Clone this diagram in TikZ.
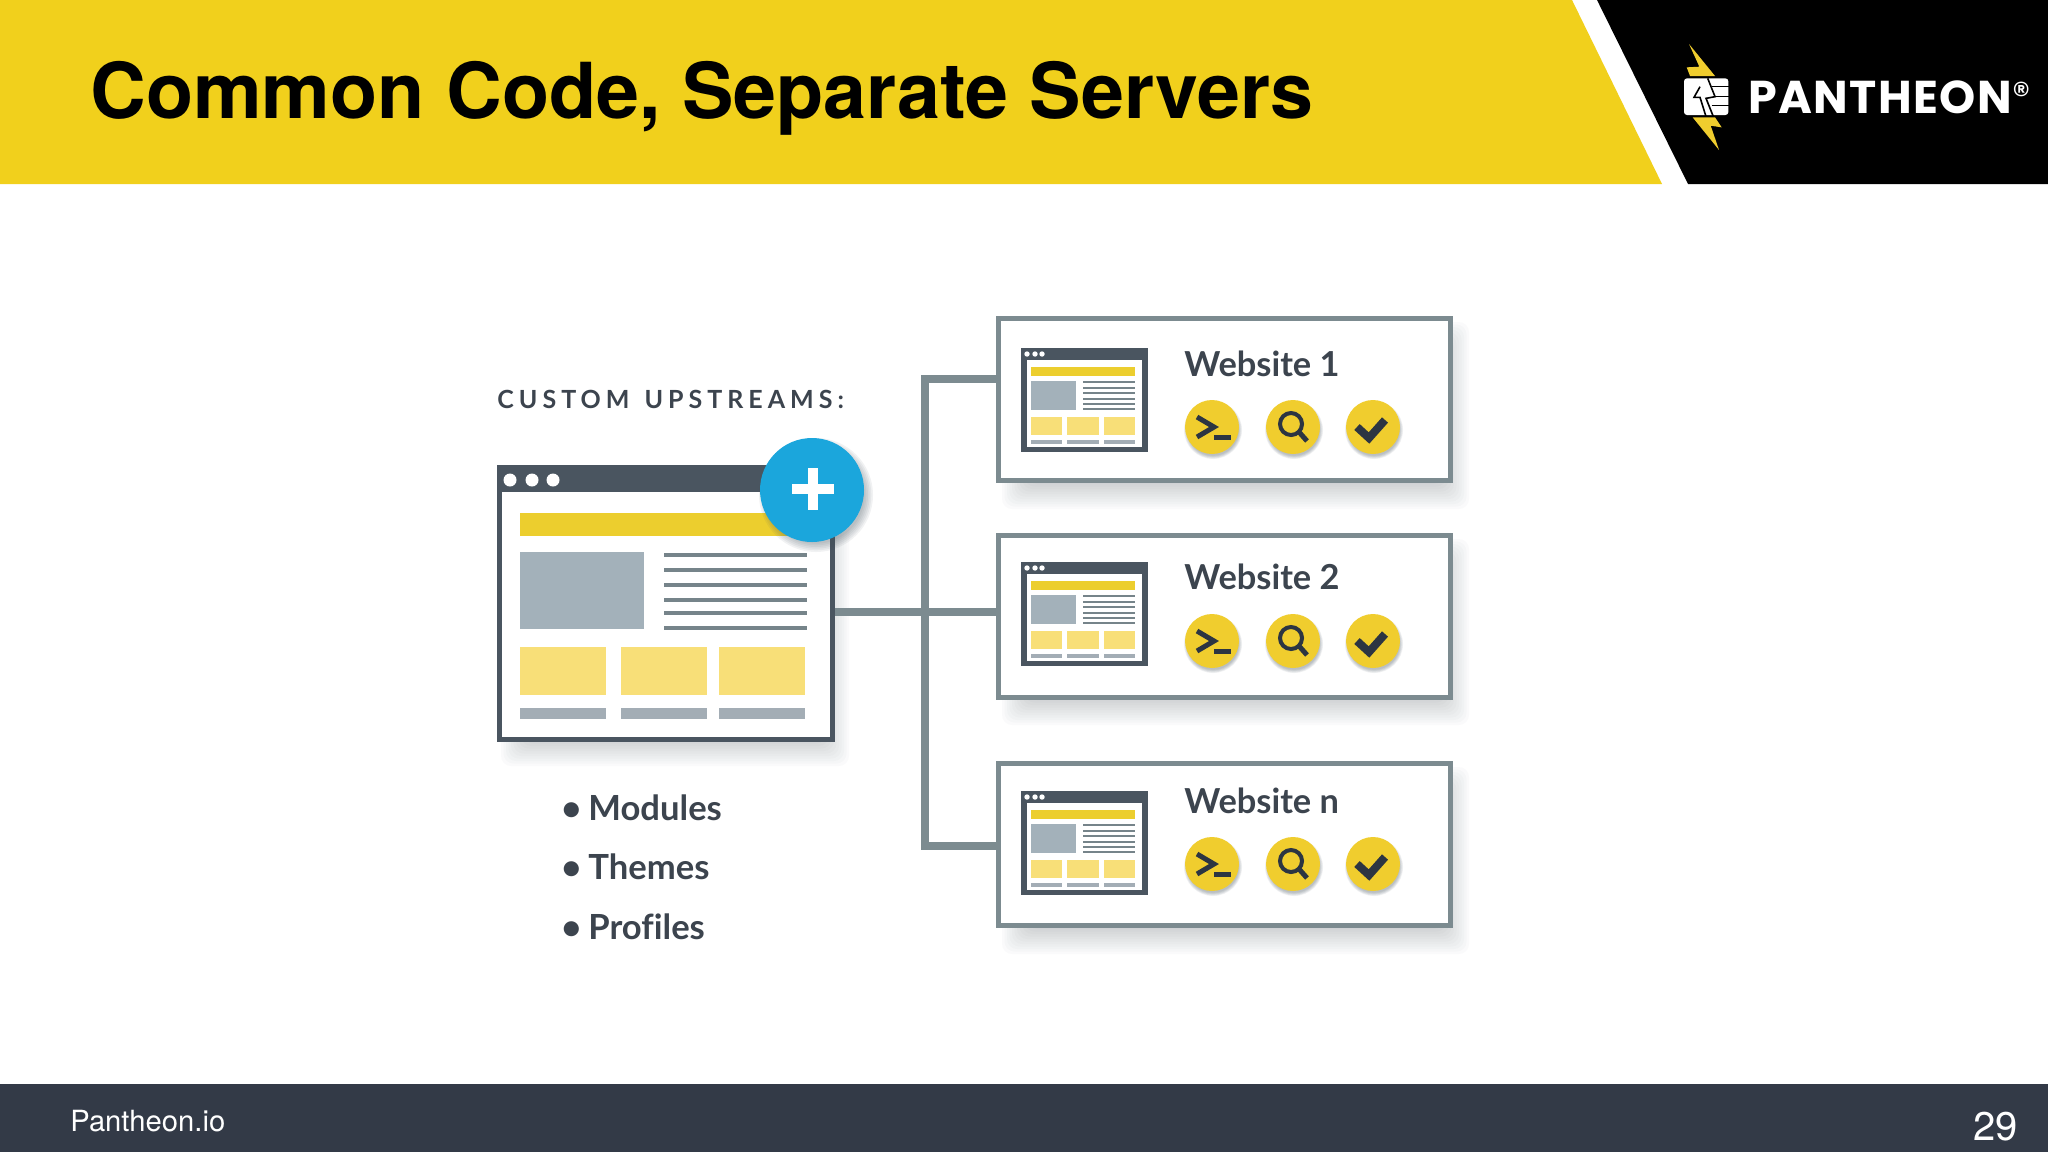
\documentclass[tikz,border=0pt]{standalone}
\usepackage{fontspec}
\setmainfont{Lato}[Ligatures=NoCommon]
\newfontfamily\helv{TeX Gyre Heros}
\newfontfamily\logofont{Poppins}
\definecolor{hdr}{HTML}{F1D01C}
\definecolor{slate}{HTML}{4A5560}
\definecolor{wire}{HTML}{7C8B90}
\definecolor{picgray}{HTML}{A3B1BA}
\definecolor{barline}{HTML}{76848A}
\definecolor{paleyel}{HTML}{F8DF78}
\definecolor{baryel}{HTML}{ECCE2E}
\definecolor{botbar}{HTML}{A3ADB5}
\definecolor{inktext}{HTML}{3C444E}
\definecolor{footbg}{HTML}{333A47}
\definecolor{plusblue}{HTML}{1BA6DC}
\definecolor{iconyel}{HTML}{F0CD2E}
\definecolor{iconink}{HTML}{2C3542}
\definecolor{shadowc}{HTML}{46525C}
\tikzset{
  x=0.5pt,y=-0.5pt,
  winbox/.style={draw=slate,fill=white,line width=2.5pt,inner sep=0pt,rectangle},
  sitebox/.style={draw=wire,fill=white,line width=2.5pt,inner sep=0pt,rectangle,minimum width=226pt,minimum height=81pt},
  conn/.style={draw=wire,line width=4pt,line join=miter},
  icondisc/.style={circle,fill=iconyel,draw=none,minimum size=27pt,inner sep=0pt},
  iconline/.style={draw=iconink,line width=2.5pt,line cap=butt,line join=miter},
  sitetitle/.style={anchor=base west,inner sep=0pt,font=\fontsize{17.2pt}{18pt}\selectfont\bfseries,text=inktext},
  listitem/.style={anchor=base west,inner sep=0pt,font=\fontsize{17.3pt}{18pt}\selectfont\bfseries,text=inktext},
}
% soft shadow: x0,y0,x1,y1
\newcommand{\softrect}[4]{%
  \foreach \k in {0,...,11}{%
    \fill[shadowc,fill opacity=0.022,rounded corners=5pt]
      ({#1-14+2.5*\k},{#2-14+2.5*\k}) rectangle ({#3+14-2.5*\k},{#4+14-2.5*\k});}}
\newcommand{\softdisc}[4]{% cx cy r spread
  \foreach \k in {0,...,5}{%
    \fill[shadowc,fill opacity=0.07] (#1,#2) circle ({#3+#4-\k*#4/3});}}
\tikzset{
  miniwin/.pic={
    \fill[slate] (0,0) rectangle (127,104);
    \fill[white] (6,12) rectangle (121,99);
    \foreach \d in {6,14,21}{\fill[white] (\d,6) circle (2.7);}
    \fill[baryel] (10,19) rectangle (114,28);
    \fill[picgray] (10,33) rectangle (55,62);
    \foreach \l in {34,40,45,51,56,61}{\fill[barline] (62,{\l-0.8}) rectangle (114,{\l+0.8});}
    \fill[paleyel] (10,69) rectangle (41,87);
    \fill[paleyel] (46,69) rectangle (78,87);
    \fill[paleyel] (83,69) rectangle (114,87);
    \fill[botbar] (10,92) rectangle (41,96);
    \fill[botbar] (46,92) rectangle (78,96);
    \fill[botbar] (83,92) rectangle (114,96);
  },
  toolrow/.pic={
    \foreach \c in {0,81,161}{\softdisc{\c+1}{3}{27}{2}}
    \node[icondisc] (-term) at (0,0) {};
    \node[icondisc] (-find) at (81,0) {};
    \node[icondisc] (-okay) at (161,0) {};
    \draw[iconline] (-15,-10) -- (2,0) -- (-15,10);
    \draw[iconline] (2,10) -- (19,10);
    \draw[iconline,line width=2pt] (79,-3) circle (11);
    \draw[iconline] (87,5) -- (95,14);
    \draw[iconline,line width=4pt] (145,0) -- (157,11) -- (173,-7);
  }
}
\begin{document}
\begin{tikzpicture}
\useasboundingbox (0,0) rectangle (2048,1152);
\fill[white] (0,0) rectangle (2048,1152);
% header
\fill[hdr] (0,0) -- (1572,0) -- (1662,184) -- (0,184) -- cycle;
\fill[black] (1597,0) -- (2048,0) -- (2048,184) -- (1688,184) -- cycle;
\node[anchor=base west,inner sep=0pt,font=\helv\bfseries\fontsize{38.6pt}{42pt}\selectfont,text=black] (title) at (90,118) {Common Code, Separate Servers};
% logo
\begin{scope}[shift={(1670,35)},x=0.1667pt,y=-0.1667pt]
  \fill[iconyel] (57,27) -- (135,123) -- (60,123) -- (50,97) -- (88,95) -- cycle;
  \fill[iconyel] (68,247) -- (135,247) -- (155,277) -- (122,272) -- (147,345) -- cycle;
  \fill[white,rounded corners=1.5pt] (42,130) rectangle (175,240);
  \draw[black,line width=0.8pt] (113,130) -- (135,185) -- (108,190) -- (130,245);
  \draw[black,line width=0.8pt] (90,155) -- (72,187) -- (90,187) -- (108,245);
  \draw[black,line width=0.8pt] (125,155) -- (178,155);
  \draw[black,line width=0.8pt] (135,185) -- (178,185);
  \draw[black,line width=0.8pt] (125,212) -- (178,212);
\end{scope}
\node[anchor=base west,inner sep=0pt,font=\logofont\bfseries\fontsize{23pt}{25pt}\selectfont,text=white] (brand) at (1748,113) {\addfontfeature{LetterSpace=3}PANTHEON};
\node[anchor=base,inner sep=0pt,font=\logofont\fontsize{18pt}{20pt}\selectfont,text=white] (reg) at (2022,107) {®};
% footer
\fill[footbg] (0,1084) rectangle (2048,1152);
\node[anchor=base west,inner sep=0pt,font=\helv\fontsize{14.6pt}{16pt}\selectfont,text=white] (foot) at (70,1131) {Pantheon.io};
\node[anchor=base east,inner sep=0pt,font=\helv\fontsize{20pt}{24pt}\selectfont,text=white] (page) at (2018,1140) {29};
% heading
\node[anchor=base west,inner sep=0pt,font=\fontsize{12.5pt}{14pt}\selectfont\bfseries,text=inktext] (head) at (497,408) {\addfontfeature{LetterSpace=20}CUSTOM\hspace{2pt} UPSTREAMS:};
% shadows
\softrect{515}{490}{835}{752}
\softrect{1016}{336}{1455}{495}
\softrect{1016}{553}{1455}{711}
\softrect{1016}{781}{1455}{940}
% main window
\node[winbox,minimum width=166.5pt,minimum height=136pt] (upstream) at (666,603.5) {};
\fill[slate] (497,465) rectangle (835,492);
\foreach \d in {510,532,553}{\fill[white] (\d,480) circle (6.5);}
\fill[baryel] (520,513) rectangle (800,536);
\fill[picgray] (520,552) rectangle (644,629);
\foreach \l in {555,570,585,600,613,628}{\fill[barline] (664,{\l-2}) rectangle (807,{\l+2});}
\fill[paleyel] (520,647) rectangle (606,695);
\fill[paleyel] (621,647) rectangle (707,695);
\fill[paleyel] (719,647) rectangle (805,695);
\fill[botbar] (520,708) rectangle (606,719);
\fill[botbar] (621,708) rectangle (707,719);
\fill[botbar] (719,708) rectangle (805,719);
% plus badge
\softdisc{816}{495}{52}{5}
\node[circle,fill=plusblue,draw=none,minimum size=52pt,inner sep=0pt] (badge) at (812,490) {};
\fill[white] (792,484) rectangle (834,494);
\fill[white] (808,468) rectangle (818,510);
% sites
\node[sitebox] (site1) at (1224.5,399.5) {};
\node[sitebox] (site2) at (1224.5,616) {};
\node[sitebox] (site3) at (1224.5,844.5) {};
\pic at (1021,348) {miniwin};
\pic at (1021,562) {miniwin};
\pic at (1021,791) {miniwin};
\node[sitetitle] (t1) at (1184,376) {Website 1};
\node[sitetitle] (t2) at (1184,589) {Website 2};
\node[sitetitle] (t3) at (1184,813) {Website n};
\pic (a) at (1212,427) {toolrow};
\pic (b) at (1212,641) {toolrow};
\pic (c) at (1212,864) {toolrow};
% connectors
\coordinate (bustop) at (925,379);
\coordinate (busmid) at (925,612);
\coordinate (busend) at (925,846);
\draw[conn] (site1.west |- bustop) -- (bustop) -- (busend) -- (site3.west |- busend);
\draw[conn] (upstream.east |- busmid) -- (site2.west |- busmid);
% list
\node[listitem] (m1) at (561,820) {\makebox[13.5pt][l]{•}Modules};
\node[listitem] (m2) at (561,879) {\makebox[13.5pt][l]{•}Themes};
\node[listitem] (m3) at (561,939) {\makebox[13.5pt][l]{•}Profiles};
\end{tikzpicture}
\end{document}
